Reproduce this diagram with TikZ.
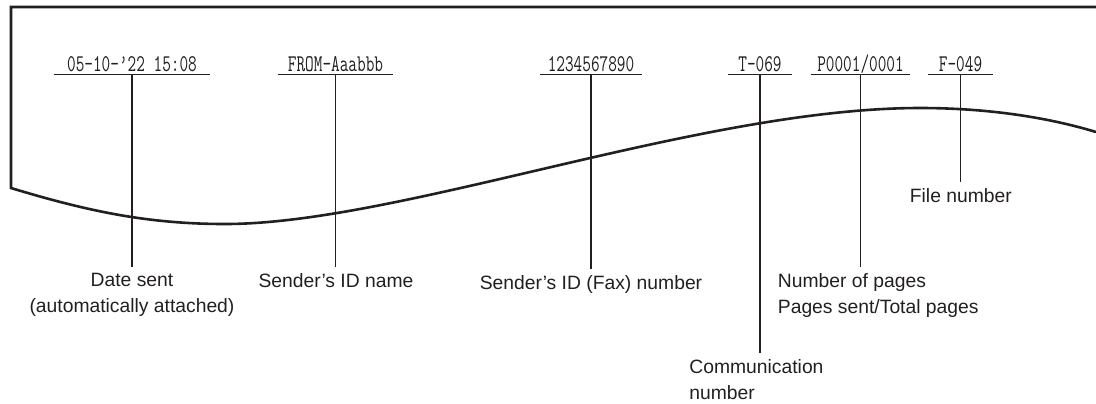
\documentclass[tikz,border=0pt]{standalone}
\usepackage{fontspec}
\usepackage{graphicx}
\setmainfont{Liberation Sans}
\usetikzlibrary{positioning,calc}
\definecolor{ink}{HTML}{231F20}
\newcommand{\faxtext}[1]{\scalebox{0.70}[1]{#1}}
\tikzset{
  field/.style={
    font=\fontsize{12}{14}\ttfamily, text=ink,
    anchor=base, inner xsep=0pt, inner ysep=1.5pt, text depth=0pt
  },
  caption/.style={
    font=\fontsize{9.65}{13}\selectfont, text=ink,
    inner xsep=0pt, inner ysep=3.2pt
  },
  leader/.style={draw=ink, line width=0.65pt},
  edge/.style={draw=ink, line width=1.3pt, line join=miter}
}

\begin{document}
\begin{tikzpicture}[x=0.5pt, y=-0.5pt]
  \useasboundingbox (0,0) rectangle (1096,403);
  % torn edge of the received page
  \draw[edge] (1096,7) -- (11,7) -- (11,188)
    .. controls (90,212) and (150,224) .. (225,224)
    .. controls (400,224) and (700,108) .. (920,108)
    .. controls (990,108) and (1050,118) .. (1096,132);
  % header fields
  \node[field, minimum width=78pt] (date) at (132,71) {\faxtext{05-10-’22 15:08}};
  \node[field, minimum width=57.5pt] (name) at (335.5,71) {\faxtext{FROM-Aaabbb}};
  \node[field, minimum width=51pt] (num) at (591,71) {\faxtext{1234567890}};
  \node[field, minimum width=32pt] (comm) at (760,71) {\faxtext{T-069}};
  \node[field, minimum width=49.5pt] (pages) at (860.5,71) {\faxtext{P0001/0001}};
  \node[field, minimum width=32.5pt] (file) at (960.5,71) {\faxtext{F-049}};
  % captions
  \node[caption, anchor=north, align=center] (datelbl) at (132,266.7) {Date sent\\(automatically attached)};
  \node[caption, anchor=north] (namelbl) at (336,266.5) {Sender’s ID name};
  \node[caption, anchor=north] (numlbl) at (591,268.5) {Sender’s ID (Fax) number};
  \node[caption, anchor=north west, align=left] (commlbl) at (689,353) {Communication\\number};
  \node[caption, anchor=north west, align=left] (pageslbl) at (777.5,267) {Number of pages\\Pages sent/Total pages};
  \node[caption, anchor=north west] (filelbl) at (909.5,181.7) {File number};
  % underlines and leaders
  \foreach \f/\l in {date/datelbl, name/namelbl, num/numlbl, comm/commlbl, pages/pageslbl, file/filelbl} {
    \draw[leader] (\f.south west) -- (\f.south east);
    \draw[leader] (\f.south) -- (\f.south |- \l.north);
  }
\end{tikzpicture}
\end{document}
